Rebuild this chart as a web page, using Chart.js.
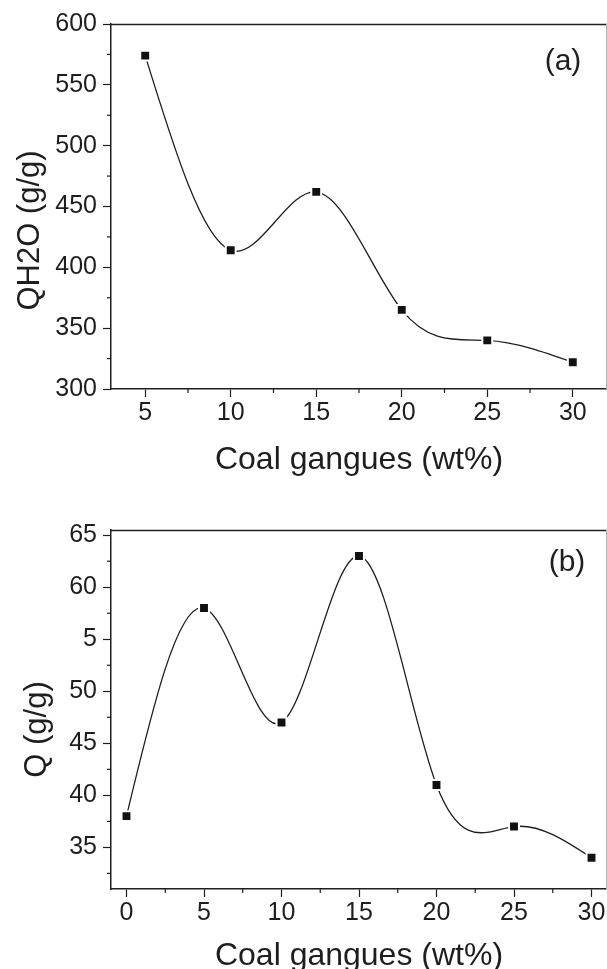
<!DOCTYPE html>
<html>
<head>
<meta charset="utf-8">
<script src="https://cdn.jsdelivr.net/npm/chart.js@4.4.0/dist/chart.umd.min.js"></script>
<style>
  body { margin: 0; width: 607px; height: 969px; overflow: hidden; background: #fff; }
  .box { position: absolute; left: 0; width: 607px; }
  #boxA { top: 0; height: 480px; }
  #boxB { top: 480px; height: 500px; }
</style>
</head>
<body>
<div class="box" id="boxA"><canvas id="chartA"></canvas></div>
<div class="box" id="boxB"><canvas id="chartB"></canvas></div>
<script>
// panel (a)
let aX = [5, 10, 15, 20, 25, 30];
let aY = [574, 414, 462, 365, 340, 322];
let aXTicks = [5, 10, 15, 20, 25, 30];
let aYTicks = [300, 350, 400, 450, 500, 550, 600];
let aYLabels = ['300', '350', '400', '450', '500', '550', '600'];

// panel (b)
let bX = [0, 5, 10, 15, 20, 25, 30];
let bY = [38, 58, 47, 63, 41, 37, 34];
let bXTicks = [0, 5, 10, 15, 20, 25, 30];
let bYTicks = [35, 40, 45, 50, 55, 60, 65];
let bYLabels = ['35', '40', '45', '50', '5', '60', '65'];

let ink = '#1e1e1e';
let fontName = '"Liberation Sans", Arial, sans-serif';

// natural cubic spline through the points (like the original plot's spline line)
let splinePlugin = {
  id: 'spline',
  beforeDatasetDraw(chart, args) {
    let meta = args.meta;
    meta.dataset.updateControlPoints(chart.chartArea, 'x');
    let pts = meta.data;
    let n = pts.length;
    let h = [], d = [];
    for (let i = 0; i < n - 1; i++) {
      h[i] = pts[i + 1].x - pts[i].x;
      d[i] = (pts[i + 1].y - pts[i].y) / h[i];
    }
    let a = [], b = [], c = [], r = [];
    for (let i = 1; i < n - 1; i++) {
      a.push(h[i - 1]); b.push(2 * (h[i - 1] + h[i])); c.push(h[i]); r.push(6 * (d[i] - d[i - 1]));
    }
    let m = b.length;
    for (let i = 1; i < m; i++) {
      let w = a[i] / b[i - 1];
      b[i] -= w * c[i - 1];
      r[i] -= w * r[i - 1];
    }
    let M = new Array(n).fill(0);
    for (let i = m - 1; i >= 0; i--) {
      M[i + 1] = (r[i] - (i < m - 1 ? c[i] * M[i + 2] : 0)) / b[i];
    }
    let s = [];
    for (let i = 0; i < n - 1; i++) s[i] = d[i] - h[i] * (2 * M[i] + M[i + 1]) / 6;
    s[n - 1] = d[n - 2] + h[n - 2] * (M[n - 2] + 2 * M[n - 1]) / 6;
    pts.forEach(function (p, i) {
      let hl = i > 0 ? h[i - 1] / 3 : 0;
      let hr = i < n - 1 ? h[i] / 3 : 0;
      p.cp1x = p.x - hl; p.cp1y = p.y - s[i] * hl;
      p.cp2x = p.x + hr; p.cp2y = p.y + s[i] * hr;
    });
  }
};

// top/right frame, minor ticks, y title and the (a)/(b) tag
let framePlugin = {
  id: 'frame',
  afterDraw(chart, args, opts) {
    let ctx = chart.ctx, area = chart.chartArea;
    ctx.save();
    ctx.strokeStyle = ink;
    ctx.lineWidth = 1.5;
    ctx.beginPath();
    ctx.moveTo(area.left, area.top + 0.5);
    ctx.lineTo(area.right, area.top + 0.5);
    ctx.stroke();
    ctx.strokeStyle = '#b5b5b5';
    ctx.lineWidth = 1;
    ctx.beginPath();
    ctx.moveTo(area.right - 0.5, area.top);
    ctx.lineTo(area.right - 0.5, area.bottom);
    ctx.stroke();

    ctx.strokeStyle = ink;
    ctx.lineWidth = 1.2;
    ['x', 'y'].forEach(function (id) {
      let sc = chart.scales[id];
      let t = sc.ticks.map(k => k.value);
      let step = t[1] - t[0];
      for (let v = t[0] - step / 2; v <= sc.max; v += step) {
        if (v < sc.min) continue;
        let p = sc.getPixelForValue(v);
        ctx.beginPath();
        if (id === 'x') { ctx.moveTo(p, area.bottom); ctx.lineTo(p, area.bottom + 4); }
        else { ctx.moveTo(area.left, p); ctx.lineTo(area.left - 4, p); }
        ctx.stroke();
      }
    });

    ctx.fillStyle = ink;
    ctx.textAlign = 'center';
    ctx.textBaseline = 'middle';
    ctx.font = '30px ' + fontName;
    ctx.fillText(opts.text, area.right - opts.dx, area.top + opts.dy);

    ctx.translate(opts.titleX, (area.top + area.bottom) / 2 + opts.titleShift);
    ctx.rotate(-Math.PI / 2);
    ctx.font = '31px ' + fontName;
    ctx.fillText(opts.yTitle, 0, 0);
    ctx.restore();
  }
};

function makeChart(id, xs, ys, xTicks, yTicks, yLabels, xMin, xMax, yMin, yMax, yTitle, tag, lay) {
  return new Chart(id, {
    type: 'line',
    data: {
      datasets: [{
        data: xs.map((x, i) => ({ x: x, y: ys[i] })),
        borderColor: ink,
        borderWidth: 1.3,
        tension: 0.4,
        pointStyle: 'rect',
        pointRadius: 7,
        pointBackgroundColor: '#111',
        pointBorderColor: '#fff',
        pointBorderWidth: 2
      }]
    },
    options: {
      responsive: true,
      maintainAspectRatio: false,
      animation: false,
      layout: { autoPadding: false, padding: { top: lay.top, right: 0, bottom: 0, left: 0 } },
      plugins: {
        legend: { display: false },
        tooltip: { enabled: false },
        frame: {
          text: tag, dx: lay.tagDx, dy: lay.tagDy,
          yTitle: yTitle, titleX: lay.titleX, titleShift: lay.titleShift
        }
      },
      scales: {
        x: {
          type: 'linear',
          min: xMin,
          max: xMax,
          afterBuildTicks: sc => { sc.ticks = xTicks.map(v => ({ value: v })); },
          afterFit: sc => { sc.height = 91; sc.paddingLeft = 0; sc.paddingRight = 0; },
          border: { color: ink, width: 1.5 },
          grid: { drawOnChartArea: false, tickLength: 8, color: ink, tickWidth: 1.2 },
          ticks: { font: { family: fontName, size: 25 }, color: ink, padding: 1, maxRotation: 0 },
          title: {
            display: true,
            text: 'Coal gangues (wt%)',
            color: ink,
            font: { family: fontName, size: 32 },
            padding: { top: 0, bottom: lay.xTitlePad }
          }
        },
        y: {
          min: yMin,
          max: yMax,
          afterBuildTicks: sc => { sc.ticks = yTicks.map(v => ({ value: v })); },
          afterFit: sc => { sc.width = 111; sc.paddingTop = 0; sc.paddingBottom = 0; },
          border: { color: ink, width: 1.5 },
          grid: { drawOnChartArea: false, tickLength: 8, color: ink, tickWidth: 1.2 },
          ticks: {
            font: { family: fontName, size: 25 },
            color: ink,
            padding: 6,
            callback: (v, i) => yLabels[i]
          }
        }
      }
    },
    plugins: [splinePlugin, framePlugin]
  });
}

makeChart('chartA', aX, aY, aXTicks, aYTicks, aYLabels, 3, 32, 300, 600, 'QH2O (g/g)', '(a)',
  { top: 24, tagDx: 44, tagDy: 38, xTitlePad: 1, titleX: 30, titleShift: 24 });
makeChart('chartB', bX, bY, bXTicks, bYTicks, bYLabels, -1, 31, 31, 65.5, 'Q (g/g)', '(b)',
  { top: 50, tagDx: 40, tagDy: 33, xTitlePad: 5, titleX: 37, titleShift: 20 });
</script>
</body>
</html>
